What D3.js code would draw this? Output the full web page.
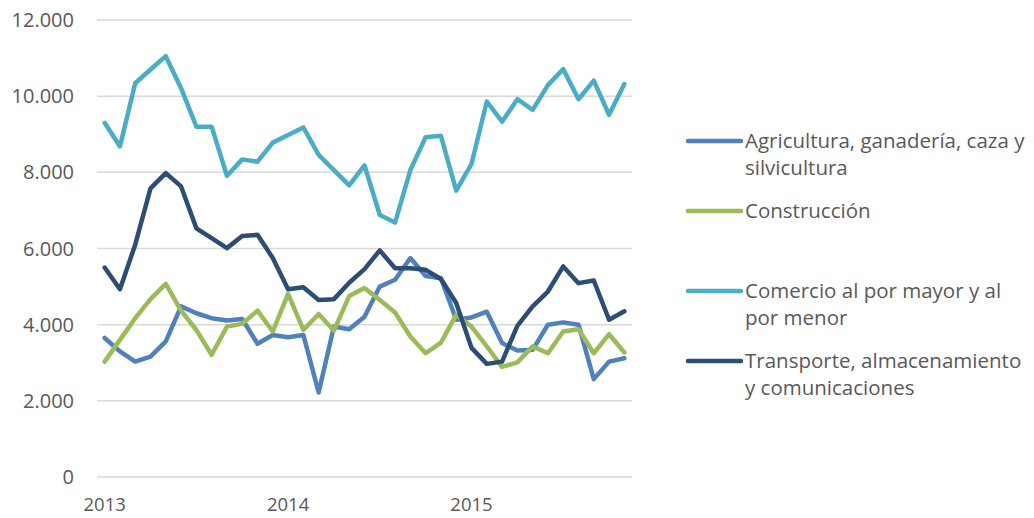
<!DOCTYPE html>
<html>
<head>
<meta charset="utf-8">
<script src="https://cdn.jsdelivr.net/npm/d3@7"></script>
<style>
  body { margin: 0; background: #fff; }
  text { font-family: "Open Sans", sans-serif; fill: #595959; }
</style>
</head>
<body>
<svg id="chart" width="1034" height="518"></svg>
<script>
// monthly, Jan 2013 .. Nov 2015
const months = d3.range(35).map(i => new Date(2013, i, 1));
const yearLabels = ["2013", "2014", "2015"];
const yTicks = [0, 2000, 4000, 6000, 8000, 10000, 12000];

const agricultura = [3650, 3300, 3030, 3160, 3560, 4480, 4300, 4170, 4110, 4150, 3500, 3730,
  3670, 3730, 2220, 3950, 3880, 4210, 5000, 5180, 5750, 5280, 5220, 4130, 4190, 4340,
  3520, 3320, 3340, 4000, 4060, 4000, 2570, 3030, 3120];
const construccion = [3030, 3600, 4170, 4670, 5070, 4370, 3860, 3210, 3950, 4020, 4370, 3820,
  4810, 3860, 4280, 3840, 4750, 4960, 4650, 4320, 3690, 3250, 3530, 4260, 3950, 3430,
  2890, 3010, 3430, 3250, 3820, 3880, 3250, 3750, 3270];
const comercio = [9300, 8680, 10340, 10700, 11050, 10210, 9200, 9200, 7910, 8340, 8280, 8780,
  8980, 9180, 8460, 8060, 7660, 8180, 6880, 6680, 8060, 8920, 8960, 7520, 8220, 9860,
  9330, 9920, 9640, 10290, 10710, 9920, 10410, 9510, 10320];
const transporte = [5500, 4930, 6100, 7580, 7980, 7630, 6530, 6270, 6010, 6330, 6360, 5750,
  4930, 4980, 4650, 4670, 5100, 5460, 5950, 5480, 5480, 5440, 5200, 4570, 3390, 2970,
  3030, 3970, 4480, 4870, 5530, 5090, 5160, 4130, 4350];

const series = [
  { name: ["Agricultura, ganadería, caza y", "silvicultura"], values: agricultura, color: "#4f81bd" },
  { name: ["Construcción"], values: construccion, color: "#9bbb59" },
  { name: ["Comercio al por mayor y al", "por menor"], values: comercio, color: "#4bacc6" },
  { name: ["Transporte, almacenamiento", "y comunicaciones"], values: transporte, color: "#2c4d75" }
];

const svg = d3.select("#chart");
const plotLeft = 97, plotRight = 632, plotTop = 20, plotBottom = 477;

const x = d3.scaleBand()
  .domain(d3.range(months.length))
  .range([plotLeft, plotRight]);

const y = d3.scaleLinear()
  .domain([0, 12000])
  .range([plotBottom, plotTop]);

const fmt = v => d3.format(",")(v).replace(/,/g, ".");

// gridlines
svg.append("g")
  .selectAll("line")
  .data(yTicks)
  .join("line")
  .attr("x1", plotLeft)
  .attr("x2", plotRight)
  .attr("y1", d => y(d))
  .attr("y2", d => y(d))
  .attr("stroke", "#d9d9d9")
  .attr("stroke-width", 1.5);

// y axis labels
svg.append("g")
  .selectAll("text")
  .data(yTicks)
  .join("text")
  .attr("x", 74)
  .attr("y", d => y(d))
  .attr("dy", "0.35em")
  .attr("text-anchor", "end")
  .style("font-size", "20px")
  .text(d => fmt(d));

// x labels, one per year
svg.append("g")
  .selectAll("text")
  .data(yearLabels)
  .join("text")
  .attr("x", (d, i) => x(i * 12) + x.bandwidth() / 2)
  .attr("y", 511)
  .attr("text-anchor", "middle")
  .style("font-size", "18.5px")
  .text(d => d);

const line = d3.line()
  .x((d, i) => x(i) + x.bandwidth() / 2)
  .y(d => y(d));

svg.append("g")
  .selectAll("path")
  .data(series)
  .join("path")
  .attr("d", d => line(d.values))
  .attr("fill", "none")
  .attr("stroke", d => d.color)
  .attr("stroke-width", 4.5)
  .attr("stroke-linejoin", "round")
  .attr("stroke-linecap", "round");

// legend
const legendY = [141, 211, 291, 361];
const legend = svg.append("g")
  .selectAll("g")
  .data(series)
  .join("g")
  .attr("transform", (d, i) => `translate(0,${legendY[i]})`);

legend.append("line")
  .attr("x1", 688)
  .attr("x2", 741)
  .attr("stroke", d => d.color)
  .attr("stroke-width", 4.5)
  .attr("stroke-linecap", "round");

legend.append("text")
  .style("font-size", "20.5px")
  .selectAll("tspan")
  .data(d => d.name)
  .join("tspan")
  .attr("x", 745)
  .attr("dy", (d, i) => i === 0 ? "0.35em" : "27px")
  .text(d => d);
</script>
</body>
</html>
